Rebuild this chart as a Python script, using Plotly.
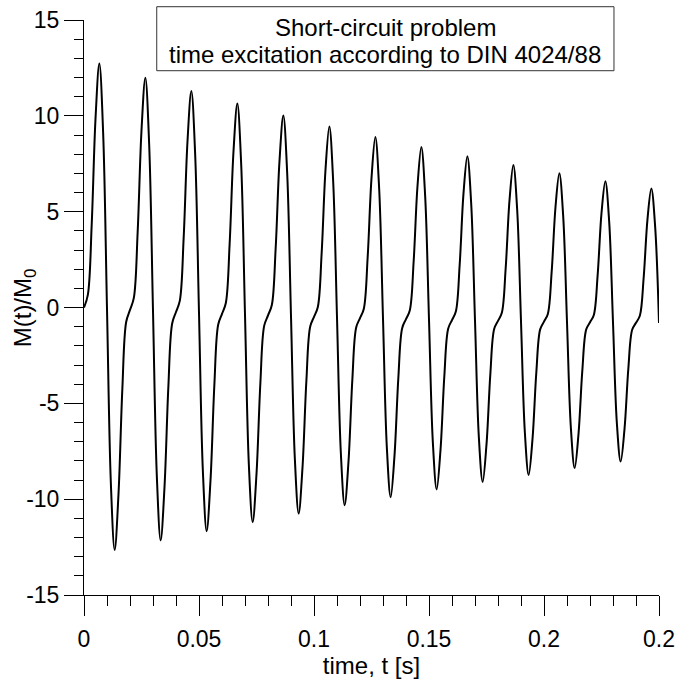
import plotly.graph_objects as go

time_s = [
    0.0, 0.00167, 0.00333, 0.005, 0.00667, 0.00833, 0.01, 0.01167, 0.01333, 0.015, 0.01667, 0.01833,
    0.02, 0.02167, 0.02333, 0.025, 0.02667, 0.02833, 0.03, 0.03167, 0.03333, 0.035, 0.03667, 0.03833,
    0.04, 0.04167, 0.04333, 0.045, 0.04667, 0.04833, 0.05, 0.05167, 0.05333, 0.055, 0.05667, 0.05833,
    0.06, 0.06167, 0.06333, 0.065, 0.06667, 0.06833, 0.07, 0.07167, 0.07333, 0.075, 0.07667, 0.07833,
    0.08, 0.08167, 0.08333, 0.085, 0.08667, 0.08833, 0.09, 0.09167, 0.09333, 0.095, 0.09667, 0.09833,
    0.10, 0.10167, 0.10333, 0.105, 0.10667, 0.10833, 0.11, 0.11167, 0.11333, 0.115, 0.11667, 0.11833,
    0.12, 0.12167, 0.12333, 0.125, 0.12667, 0.12833, 0.13, 0.13167, 0.13333, 0.135, 0.13667, 0.13833,
    0.14, 0.14167, 0.14333, 0.145, 0.14667, 0.14833, 0.15, 0.15167, 0.15333, 0.155, 0.15667, 0.15833,
    0.16, 0.16167, 0.16333, 0.165, 0.16667, 0.16833, 0.17, 0.17167, 0.17333, 0.175, 0.17667, 0.17833,
    0.18, 0.18167, 0.18333, 0.185, 0.18667, 0.18833, 0.19, 0.19167, 0.19333, 0.195, 0.19667, 0.19833,
    0.20, 0.20167, 0.20333, 0.205, 0.20667, 0.20833, 0.21, 0.21167, 0.21333, 0.215, 0.21667, 0.21833,
    0.22, 0.22167, 0.22333, 0.225, 0.22667, 0.22833, 0.23, 0.23167, 0.23333, 0.235, 0.23667, 0.23833,
    0.24, 0.24167, 0.24333, 0.245, 0.24667, 0.24833, 0.25,
]

moment_ratio = [
    0.0, 0.656, 4.272, 9.843, 12.732, 9.084, -0.065, -9.137, -12.649, -9.727, -4.259, -0.755,
    -0.125, 0.500, 3.941, 9.241, 11.989, 8.520, -0.181, -8.810, -12.151, -9.370, -4.168, -0.834,
    -0.234, 0.361, 3.635, 8.677, 11.292, 7.993, -0.284, -8.491, -11.668, -9.022, -4.073, -0.901,
    -0.330, 0.237, 3.352, 8.149, 10.637, 7.499, -0.373, -8.179, -11.201, -8.684, -3.975, -0.958,
    -0.413, 0.126, 3.089, 7.653, 10.021, 7.036, -0.451, -7.877, -10.750, -8.355, -3.875, -1.005,
    -0.487, 0.027, 2.846, 7.188, 9.441, 6.602, -0.520, -7.582, -10.315, -8.037, -3.775, -1.044,
    -0.551, -0.061, 2.621, 6.751, 8.894, 6.194, -0.580, -7.298, -9.897, -7.729, -3.675, -1.077,
    -0.607, -0.141, 2.411, 6.340, 8.379, 5.811, -0.632, -7.022, -9.494, -7.432, -3.575, -1.103,
    -0.656, -0.212, 2.215, 5.953, 7.893, 5.451, -0.678, -6.756, -9.107, -7.145, -3.476, -1.124,
    -0.699, -0.277, 2.033, 5.588, 7.434, 5.111, -0.718, -6.499, -8.736, -6.869, -3.379, -1.142,
    -0.736, -0.335, 1.862, 5.245, 7.001, 4.792, -0.753, -6.252, -8.379, -6.604, -3.283, -1.155,
    -0.769, -0.387, 1.703, 4.921, 6.591, 4.490, -0.784, -6.015, -8.038, -6.348, -3.190, -1.165,
    -0.798, -0.434, 1.554, 4.615, 6.204, 4.206, -0.811,
]

x_tick_values = [0, 0.05, 0.1, 0.15, 0.2, 0.25]
x_tick_labels = ["0", "0.05", "0.1", "0.15", "0.2", "0.2"]
y_tick_values = [-15, -10, -5, 0, 5, 10, 15]
y_tick_labels = ["-15", "-10", "-5", "0", "5", "10", "15"]

title_lines = ["Short-circuit problem", "time excitation according to DIN 4024/88"]
x_title = "time, t [s]"
y_title = "M(t)/M<sub>0</sub>"

FONT = "Liberation Sans, Arial, Helvetica, sans-serif"
TICK_SIZE = 23
TITLE_SIZE = 24

fig = go.Figure()
fig.add_trace(go.Scatter(
    x=time_s, y=moment_ratio, mode="lines",
    line=dict(color="black", width=2, shape="spline", smoothing=1, simplify=False),
    showlegend=False, hoverinfo="skip",
))

axis_common = dict(
    showgrid=False, zeroline=False, showline=True, linecolor="black", linewidth=1,
    ticks="outside", tickcolor="black", tickwidth=1,
    tickfont=dict(family=FONT, size=TICK_SIZE, color="black"),
    mirror=False, ticklabeloverflow="allow",
)

fig.update_xaxes(
    **axis_common,
    range=[0, 0.25], tickmode="array", tickvals=x_tick_values, ticktext=x_tick_labels,
    ticklen=20, ticklabelstandoff=3,
    minor=dict(dtick=0.01, ticks="outside", ticklen=10, tickcolor="black", tickwidth=1),
    title=dict(text=x_title, font=dict(family=FONT, size=TITLE_SIZE, color="black"), standoff=2),
)
fig.update_yaxes(
    **axis_common,
    range=[-15, 15], tickmode="array", tickvals=y_tick_values, ticktext=y_tick_labels,
    ticklen=19, ticklabelstandoff=0,
    minor=dict(dtick=1, ticks="outside", ticklen=9, tickcolor="black", tickwidth=1),
)

# y-axis title placed close to the axis, as in the reference
fig.add_annotation(
    x=-0.103, y=0.5, xref="paper", yref="paper", xanchor="center", yanchor="middle",
    text=y_title, textangle=-90, showarrow=False,
    font=dict(family=FONT, size=TITLE_SIZE, color="black"),
)

# Title box (frame plus two centred text lines)
fig.add_shape(
    type="rect", xref="paper", yref="paper",
    x0=0.1265, x1=0.9217, y0=0.9118, y1=1.0231,
    line=dict(color="#333333", width=1), fillcolor="white", layer="above",
)
for line_text, y_pos in zip(title_lines, [0.9866, 0.9397]):
    fig.add_annotation(
        x=0.524, y=y_pos, xref="paper", yref="paper", xanchor="center", yanchor="middle",
        text=line_text, showarrow=False,
        font=dict(family=FONT, size=TITLE_SIZE, color="black"),
    )

fig.update_layout(
    width=688, height=682,
    margin=dict(l=84, r=29, t=20, b=87, autoexpand=False),
    paper_bgcolor="white", plot_bgcolor="white",
    font=dict(family=FONT, color="black"),
)

fig.write_html(
    "out.html",
    config={"displayModeBar": False, "staticPlot": True},
    post_script="document.body.style.margin='0px';",
)
